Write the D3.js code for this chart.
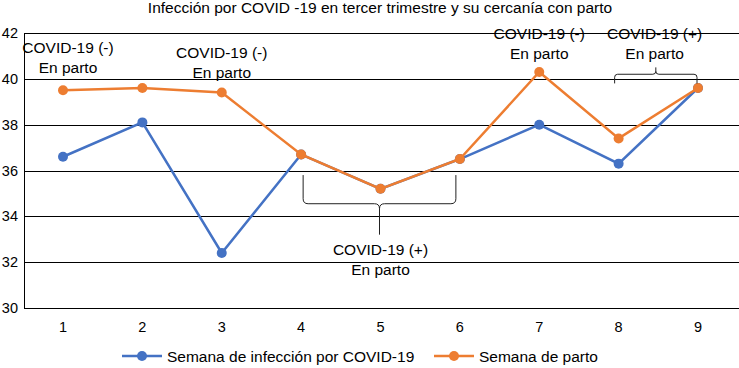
<!DOCTYPE html>
<html>
<head>
<meta charset="utf-8">
<script src="https://cdn.jsdelivr.net/npm/d3@7"></script>
<style>
  body { margin: 0; background: #fff; }
  svg { display: block; font-family: "Liberation Sans", Arial, sans-serif; }
</style>
</head>
<body>
<div id="chart"></div>
<script>
const title = "Infección por COVID -19 en tercer trimestre y su cercanía con parto";
const weeks = ["1", "2", "3", "4", "5", "6", "7", "8", "9"];
const infection = [36.6, 38.1, 32.4, 36.7, 35.2, 36.5, 38.0, 36.3, 39.6];
const delivery = [39.5, 39.6, 39.4, 36.7, 35.2, 36.5, 40.3, 37.4, 39.6];
const yTicks = [30, 32, 34, 36, 38, 40, 42];
const seriesNames = ["Semana de infección por COVID-19", "Semana de parto"];
const colors = ["#4472C4", "#ED7D31"];

const width = 739, height = 368;
const svg = d3.select("#chart").append("svg")
  .attr("width", width).attr("height", height);

const x = d3.scalePoint().domain(weeks).range([63, 698]);
const y = d3.scaleLinear().domain([30, 42]).range([308, 33]);
const left = 24, right = 739;

// title
svg.append("text")
  .attr("x", 380).attr("y", 13)
  .attr("text-anchor", "middle")
  .attr("font-size", 15.5)
  .text(title);

// gridlines
svg.append("g").selectAll("line").data(yTicks).enter().append("line")
  .attr("x1", left).attr("x2", right)
  .attr("y1", d => Math.round(y(d)) + 0.5).attr("y2", d => Math.round(y(d)) + 0.5)
  .attr("stroke", "#000").attr("stroke-width", 1);

svg.append("line")
  .attr("x1", left + 0.5).attr("x2", left + 0.5)
  .attr("y1", y(42)).attr("y2", y(30))
  .attr("stroke", "#000");

// y labels
svg.append("g").selectAll("text").data(yTicks).enter().append("text")
  .attr("x", 18).attr("y", d => y(d) + 5)
  .attr("text-anchor", "end")
  .attr("font-size", 14.5)
  .text(d => d);

// x labels
svg.append("g").selectAll("text").data(weeks).enter().append("text")
  .attr("x", d => x(d)).attr("y", 332)
  .attr("text-anchor", "middle")
  .attr("font-size", 14.5)
  .text(d => d);

const line = d3.line().x((d, i) => x(weeks[i])).y(d => y(d));

[infection, delivery].forEach((vals, k) => {
  svg.append("path")
    .datum(vals)
    .attr("d", line)
    .attr("fill", "none")
    .attr("stroke", colors[k])
    .attr("stroke-width", 2.5);
  svg.append("g").selectAll("circle").data(vals).enter().append("circle")
    .attr("cx", (d, i) => x(weeks[i]))
    .attr("cy", d => y(d))
    .attr("r", 5)
    .attr("fill", colors[k]);
});

// annotations
const noteLabels = [
  { week: "1", v: 41.35, dx: 5, lines: ["COVID-19 (-)", "En parto"] },
  { week: "3", v: 41.13, dx: 0, lines: ["COVID-19 (-)", "En parto"] },
  { week: "7", v: 41.96, dx: 0, lines: ["COVID-19 (-)", "En parto"] },
  { week: "8", v: 41.96, dx: 36, lines: ["COVID-19 (+)", "En parto"] },
  { week: "5", v: 32.57, dx: 0, lines: ["COVID-19 (+)", "En parto"] }
];
noteLabels.forEach(n => {
  const t = svg.append("text")
    .attr("text-anchor", "middle")
    .attr("font-size", 15.5);
  n.lines.forEach((s, i) => {
    t.append("tspan")
      .attr("x", x(n.week) + n.dx)
      .attr("y", y(n.v) + 5.5 + i * 20)
      .text(s);
  });
});

// curly braces
function brace(x1, x2, yEdge, yMid, yTip, r) {
  const xm = (x1 + x2) / 2;
  const s = Math.sign(yMid - yEdge);
  return `M${x1},${yEdge} L${x1},${yMid - s * r} Q${x1},${yMid} ${x1 + r},${yMid}` +
    ` L${xm - r},${yMid} Q${xm},${yMid} ${xm},${yMid + s * r} L${xm},${yTip}` +
    ` M${xm},${yMid + s * r} Q${xm},${yMid} ${xm + r},${yMid}` +
    ` L${x2 - r},${yMid} Q${x2},${yMid} ${x2},${yMid - s * r} L${x2},${yEdge}`;
}
svg.append("path")
  .attr("d", brace(x("4") + 2, x("6") - 4, y(35.8), y(34.55), y(33.2), 5))
  .attr("fill", "none").attr("stroke", "#222").attr("stroke-width", 1);
svg.append("path")
  .attr("d", brace(x("8") - 4, x("9") - 1, y(39.8), y(40.2), y(40.5), 3))
  .attr("fill", "none").attr("stroke", "#222").attr("stroke-width", 1);

// legend
const legend = svg.append("g");
const legendX = [122, 434];
seriesNames.forEach((name, k) => {
  const g = legend.append("g").attr("transform", `translate(${legendX[k]},356)`);
  g.append("line").attr("x1", 0).attr("x2", 40).attr("y1", 0).attr("y2", 0)
    .attr("stroke", colors[k]).attr("stroke-width", 2.5);
  g.append("circle").attr("cx", 20).attr("cy", 0).attr("r", 5).attr("fill", colors[k]);
  g.append("text").attr("x", 45).attr("y", 5.5).attr("font-size", 15.5).text(name);
});
</script>
</body>
</html>
